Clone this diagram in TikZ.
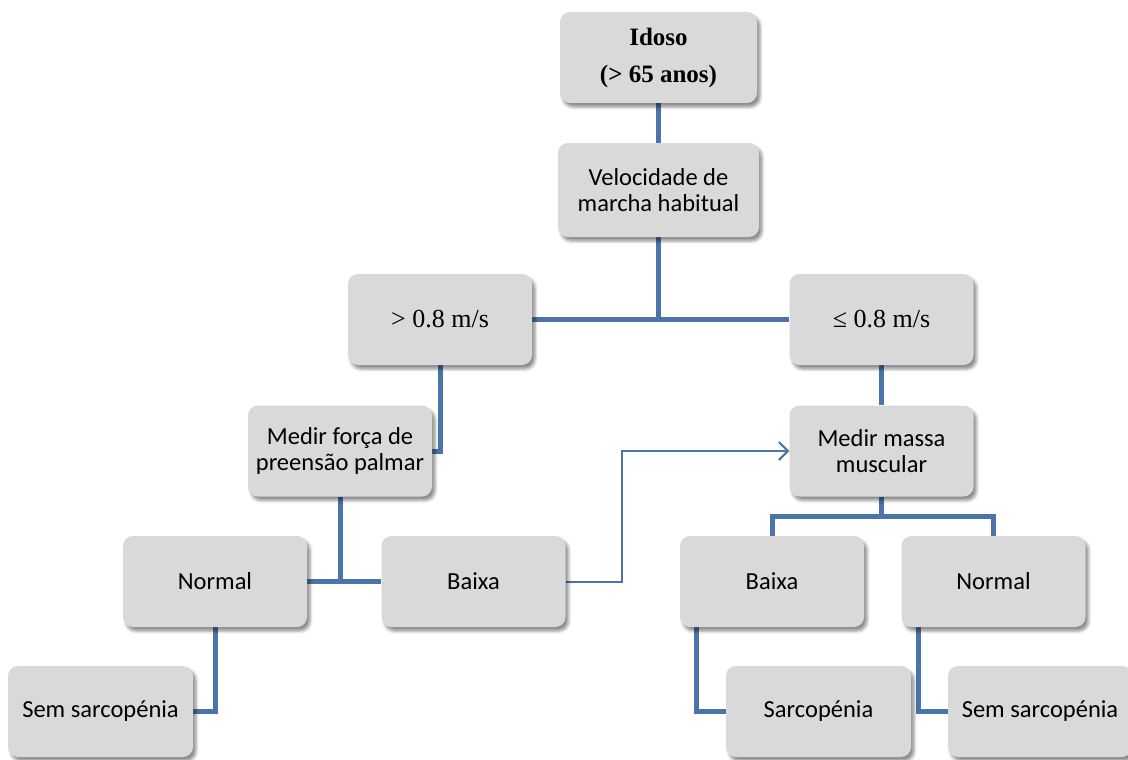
\documentclass[tikz,border=0pt]{standalone}
\usepackage{fontspec}
\setmainfont{Liberation Serif}
\setsansfont{Carlito}
\usetikzlibrary{shadows.blur,arrows.meta,backgrounds}
\definecolor{boxgray}{RGB}{217,217,217}
\definecolor{linkblue}{RGB}{74,116,170}

\begin{document}
\begin{tikzpicture}[x=1pt,y=-1pt,
  box/.style={rectangle, rounded corners=10pt, fill=boxgray,
    minimum width=184pt, minimum height=91pt, inner sep=0pt, align=center,
    font=\sffamily\fontsize{24.5}{26}\selectfont,
    blur shadow={shadow xshift=3pt, shadow yshift=-4pt,
      shadow blur radius=3pt, shadow opacity=45}},
  mathbox/.style={box, font=\fontsize{26}{37}\selectfont},
  link/.style={draw=linkblue, line width=5pt, line join=miter},
  jump/.style={draw=linkblue, line width=2pt,
    -{Straight Barb[length=9pt,width=18pt,line width=2pt]}}
]
\useasboundingbox (0,0) rectangle (1128,760);

% boxes of the decision tree
\node[mathbox, minimum width=197pt, font=\fontsize{25}{37}\selectfont]
  (idoso) at (658.5,57.5) {\textbf{Idoso}\\\textbf{(> 65 anos)}};
\node[box, minimum width=201pt, minimum height=94pt] (vel) at (658.5,190)
  {Velocidade de\\marcha habitual};
\node[mathbox] (gt) at (440,319.5) {> 0.8 m/s};
\node[mathbox] (le) at (881.5,319.5) {≤ 0.8 m/s};
\node[box] (forca) at (340,451) {Medir força de\\preensão palmar};
\node[box] (massa) at (881.5,451) {Medir massa\\muscular};
\node[box] (normL) at (215,581.5) {Normal};
\node[box] (baixaL) at (473.5,581.5) {Baixa};
\node[box] (baixaR) at (772,581.5) {Baixa};
\node[box] (normR) at (993.5,581.5) {Normal};
\node[box, minimum width=185pt] (semL) at (100.5,711.5) {Sem sarcopénia};
\node[box, minimum width=185pt] (sarc) at (818.5,711.5) {Sarcopénia};
\node[box] (semR) at (1040,711.5) {Sem sarcopénia};

\coordinate (mj) at (881.5,516);

% connectors
\begin{scope}[on background layer]
  \draw[link] (idoso.south) -- (vel.north);
  \draw[link] (gt.east) -- (le.west);
  \draw[link] (vel.south) -- (vel.south |- gt.east);
  \draw[link] (gt.south) |- (forca.east);
  \draw[link] (le.south) -- (massa.north);
  \draw[link] (normL.east) -- (baixaL.west);
  \draw[link] (forca.south) -- (forca.south |- normL.east);
  \draw[link] (massa.south) -- (mj);
  \draw[link] (baixaR.north) |- (mj) -| (normR.north);
  \draw[link] (normL.south) |- (semL.east);
  \draw[link] ([xshift=17pt]baixaR.south west) |- (sarc.west);
  \draw[link] ([xshift=17pt]normR.south west) |- (semR.west);
  \draw[jump] (baixaL.east) -- ++(56,0) |- (massa.west);
\end{scope}
\end{tikzpicture}
\end{document}
